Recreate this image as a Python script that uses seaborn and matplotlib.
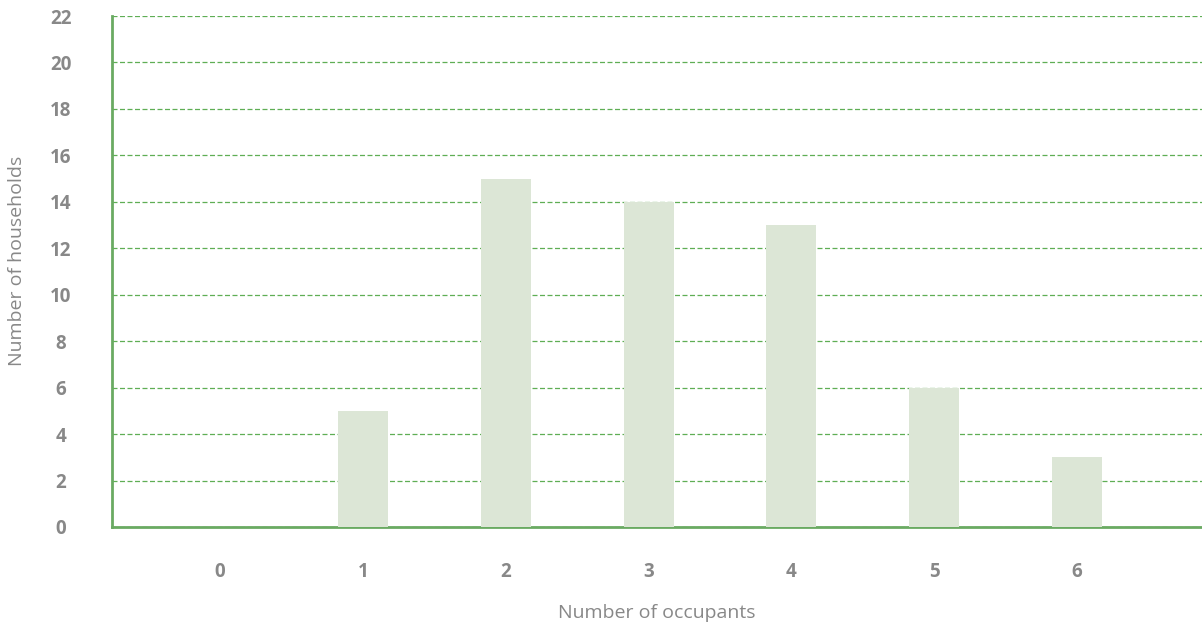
import matplotlib
matplotlib.use("Agg")
import matplotlib.pyplot as plt
import seaborn as sns
import pandas as pd

# data
occupants = ["0", "1", "2", "3", "4", "5", "6"]
households = [0, 5, 15, 14, 13, 6, 3]
y_ticks = list(range(0, 23, 2))

bar_color = "#dce6d6"
line_green = "#6aaa62"
grid_green = "#5fae55"
text_gray = "#888888"

sns.set_theme(style="white")
plt.rcParams['font.family'] = ['Open Sans', 'DejaVu Sans']

df = pd.DataFrame({"occupants": occupants, "households": households})

fig = plt.figure(figsize=(12.02, 6.3), dpi=100)
ax = fig.add_axes([0.0932, 0.1635, 0.9068, 0.8111])

sns.barplot(data=df, x="occupants", y="households", color=bar_color,
            width=0.35, saturation=1, linewidth=0, ax=ax, zorder=3)

ax.set_ylim(0, 22)
ax.set_xlim(-0.755, 6.874)
ax.set_yticks(y_ticks)
ax.yaxis.grid(True, color=grid_green, linestyle=(0, (4, 2)), linewidth=0.9, zorder=0)
ax.set_axisbelow(True)

for side in ["top", "right"]:
    ax.spines[side].set_visible(False)
for side in ["left", "bottom"]:
    ax.spines[side].set_color(line_green)
    ax.spines[side].set_linewidth(2)

ax.tick_params(axis="both", length=0, labelsize=13.5, labelcolor=text_gray)
ax.tick_params(axis="y", pad=37)
ax.tick_params(axis="x", pad=25)
for lbl in ax.get_xticklabels() + ax.get_yticklabels():
    lbl.set_fontweight("bold")
for lbl in ax.get_yticklabels():
    lbl.set_horizontalalignment("center")

ax.set_xlabel("Number of occupants", fontsize=14, color=text_gray, labelpad=16)
ax.set_ylabel("Number of households", fontsize=14, color=text_gray)
ax.yaxis.set_label_coords(-0.079, 0.52)

fig.savefig("out.png", dpi=100)
